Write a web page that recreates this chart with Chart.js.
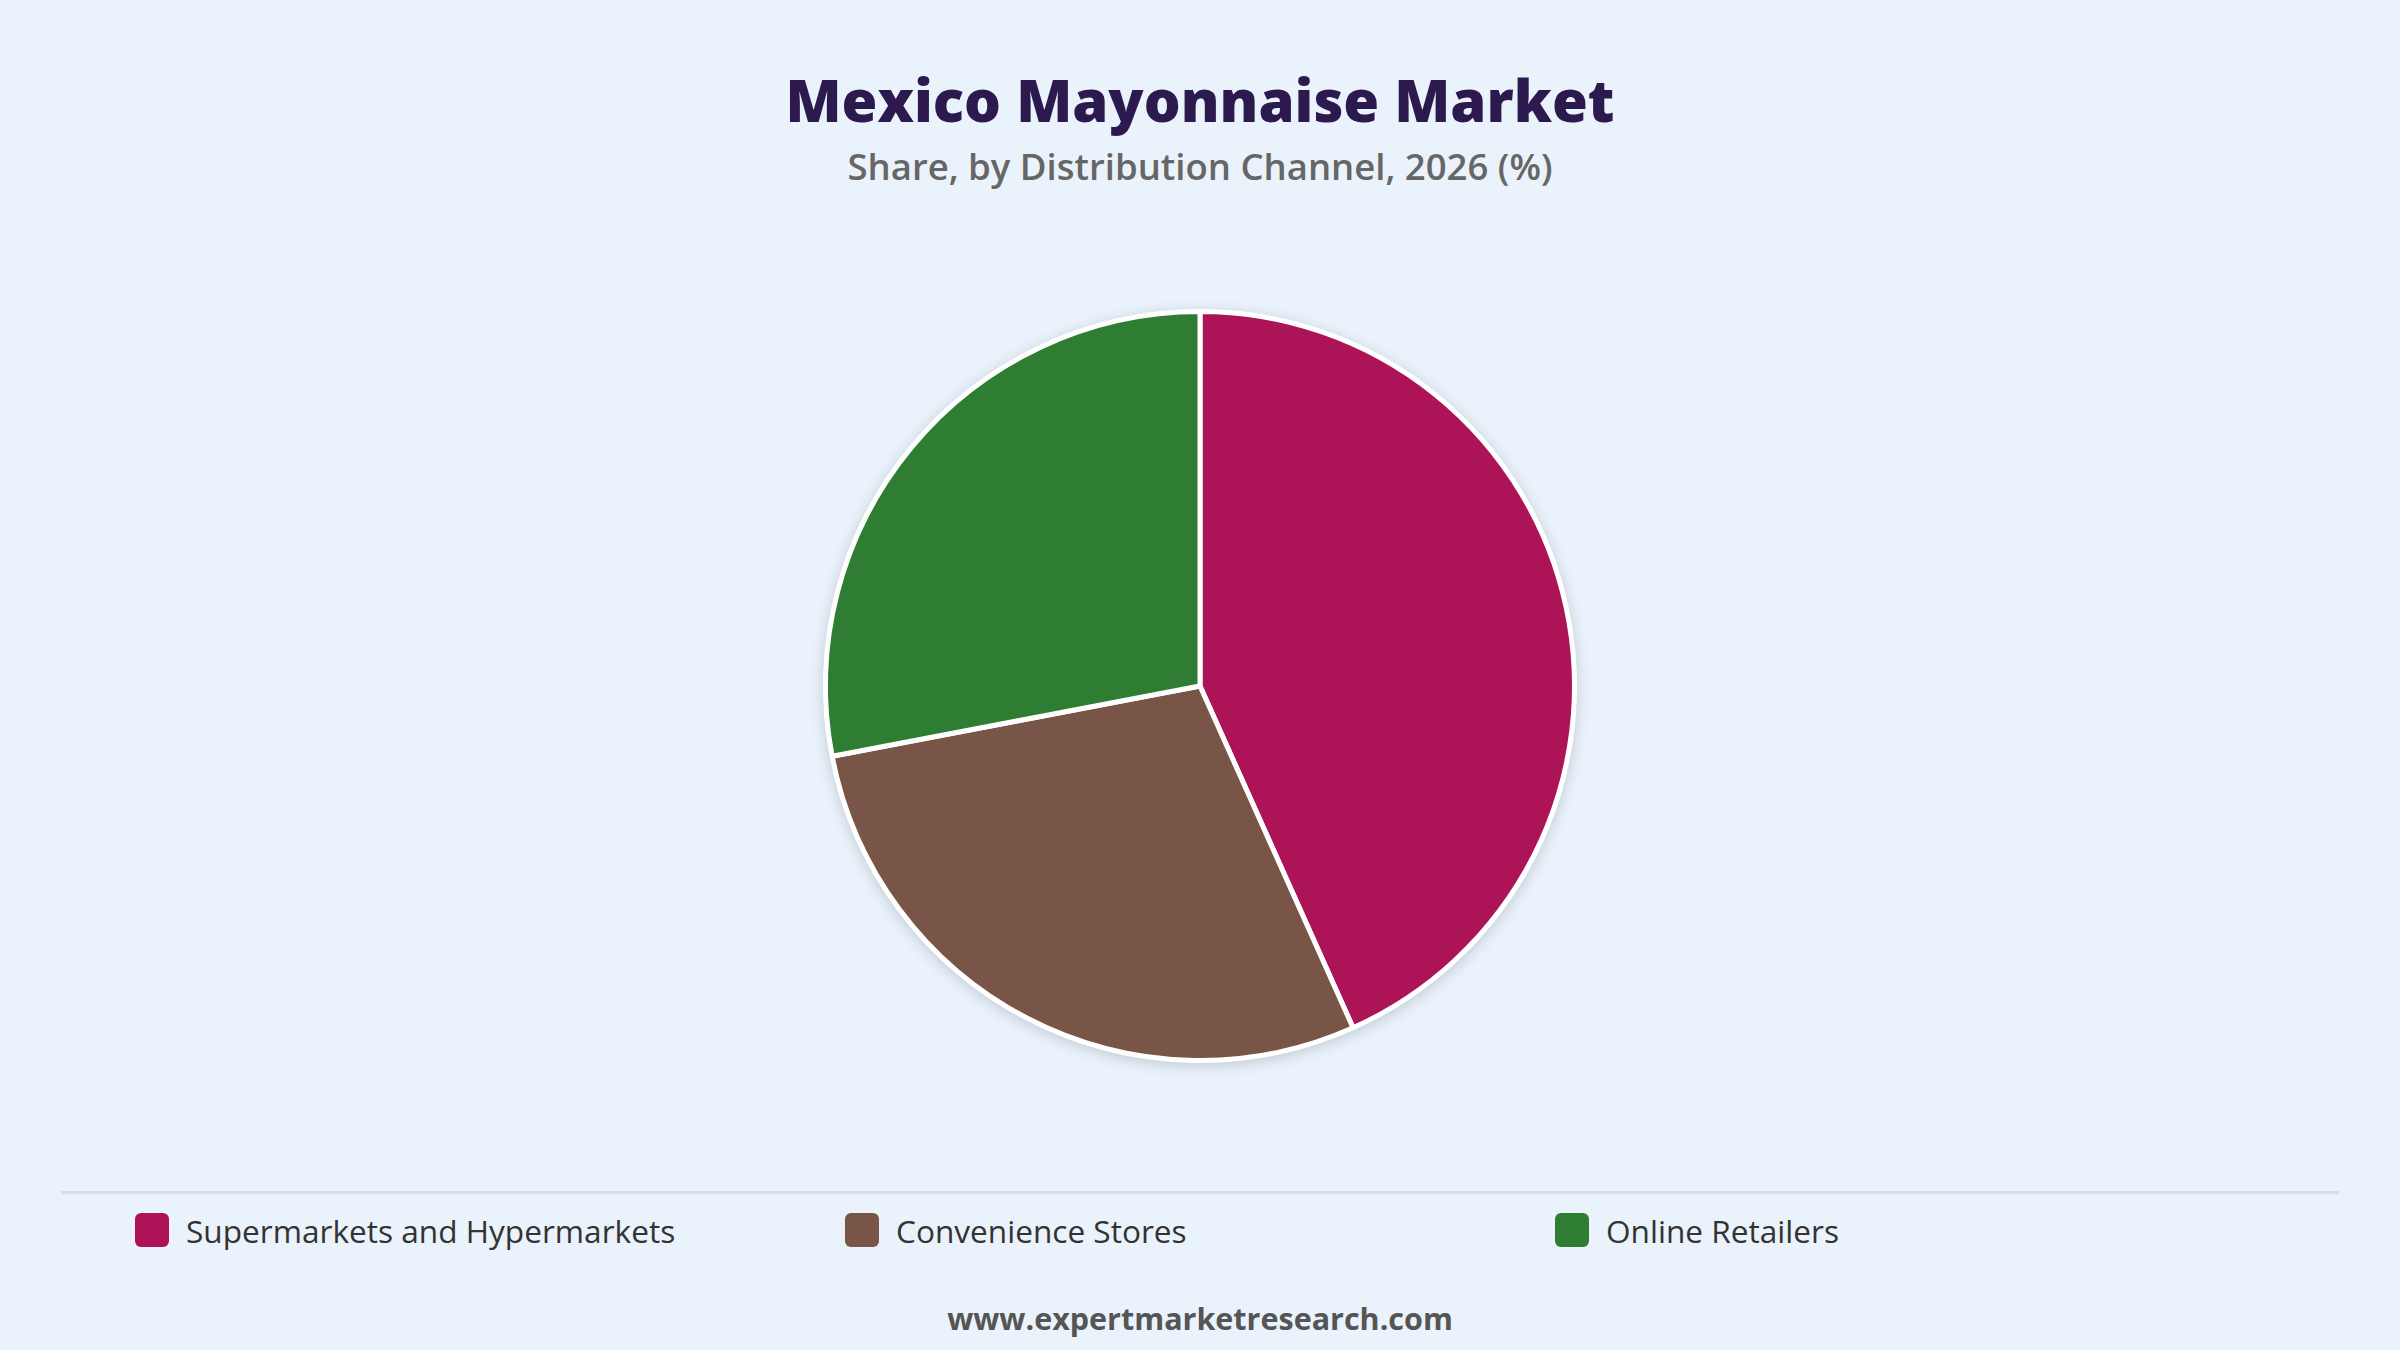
<!DOCTYPE html>
<html>
<head>
<meta charset="utf-8">
<script src="https://cdn.jsdelivr.net/npm/chart.js@4.4.1/dist/chart.umd.min.js"></script>
<style>
  html, body { margin:0; padding:0; width:2400px; height:1350px; background:#EAF2FB; overflow:hidden; font-family:"Open Sans","Noto Sans",sans-serif; }
  #title { position:absolute; left:0; width:2400px; top:60px; text-align:center; font-size:58px; font-weight:800; color:#2C1A4E; line-height:80px; }
  #subtitle { position:absolute; left:0; width:2400px; top:142px; text-align:center; font-size:36.5px; font-weight:600; color:#666666; line-height:48px; }
  #wrap { position:absolute; left:0; top:289px; width:2400px; height:794px; }
  #rule { position:absolute; left:61px; top:1191px; width:2278px; height:3px; background:#DADDE3; }
  #legend { position:absolute; left:0; top:1208px; width:2400px; height:44px; }
  .item { position:absolute; top:0; height:44px; display:flex; align-items:center; font-size:31.6px; color:#333333; font-weight:400; }
  .box { width:34px; height:34px; border-radius:6px; margin-right:17px; }
  #footer { position:absolute; left:0; width:2400px; top:1296px; text-align:center; font-size:30.5px; font-weight:700; color:#555555; line-height:44px; }
</style>
</head>
<body>
<div id="title">Mexico Mayonnaise Market</div>
<div id="subtitle">Share, by Distribution Channel, 2026 (%)</div>
<div id="wrap"><canvas id="c"></canvas></div>
<div id="rule"></div>
<div id="legend"></div>
<div id="footer">www.expertmarketresearch.com</div>
<script>
const categories = ["Supermarkets and Hypermarkets", "Convenience Stores", "Online Retailers"];
const shares = [43.3, 28.7, 28.0];
const sliceColors = ["#AD1457", "#795548", "#2E7D32"];
const legendLeft = [135, 845, 1555];

const legend = document.getElementById('legend');
categories.forEach((name, i) => {
  const it = document.createElement('div');
  it.className = 'item';
  it.style.left = legendLeft[i] + 'px';
  const b = document.createElement('div');
  b.className = 'box';
  b.style.background = sliceColors[i];
  const t = document.createElement('span');
  t.textContent = name;
  it.appendChild(b); it.appendChild(t);
  legend.appendChild(it);
});

const shadowPlugin = {
  id: 'pieShadow',
  beforeDatasetsDraw(chart) {
    const meta = chart.getDatasetMeta(0);
    if (!meta.data.length) return;
    const a = meta.data[0];
    const ctx = chart.ctx;
    ctx.save();
    ctx.shadowColor = 'rgba(40,50,70,0.22)';
    ctx.shadowBlur = 14;
    ctx.shadowOffsetY = 3;
    ctx.fillStyle = '#ffffff';
    ctx.beginPath();
    ctx.arc(a.x, a.y, a.outerRadius + 2, 0, Math.PI * 2);
    ctx.fill();
    ctx.restore();
  }
};

new Chart(document.getElementById('c'), {
  type: 'pie',
  data: {
    labels: categories,
    datasets: [{
      data: shares,
      backgroundColor: sliceColors,
      borderColor: '#ffffff',
      borderWidth: 5,
      hoverOffset: 0
    }]
  },
  options: {
    responsive: true,
    maintainAspectRatio: false,
    animation: false,
    layout: { padding: 20 },
    plugins: {
      legend: { display: false },
      title: { display: false },
      tooltip: { enabled: false }
    }
  },
  plugins: [shadowPlugin]
});
</script>
</body>
</html>
